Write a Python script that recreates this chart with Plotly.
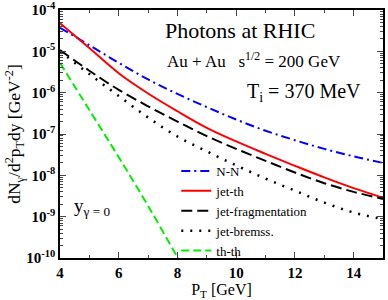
import plotly.graph_objects as go

pt = [4, 5, 6, 7, 8, 9, 10, 11, 12, 13, 14, 15]
nn = [3.72e-5, 1.41e-5, 5.25e-6, 2.09e-6, 9.33e-7, 4.47e-7, 2.24e-7, 1.20e-7, 7.08e-8, 4.37e-8, 2.88e-8, 2.00e-8]
jet_th = [4.79e-5, 1.20e-5, 2.95e-6, 9.55e-7, 3.55e-7, 1.41e-7, 6.61e-8, 3.31e-8, 1.70e-8, 8.91e-9, 4.90e-9, 2.88e-9]
jet_frag = [1.07e-5, 3.39e-6, 1.17e-6, 4.68e-7, 2.00e-7, 8.91e-8, 4.37e-8, 2.24e-8, 1.17e-8, 6.46e-9, 3.98e-9, 2.69e-9]
jet_brems = [1.00e-5, 2.82e-6, 8.32e-7, 2.51e-7, 8.71e-8, 3.80e-8, 1.74e-8, 8.32e-9, 4.27e-9, 2.19e-9, 1.26e-9, 8.71e-10]
pt_thth = [4, 5, 6, 7, 8, 8.5]
th_th = [5.25e-6, 3.80e-7, 2.75e-8, 1.82e-9, 1.05e-10, 2.5e-11]
y_ticks = [1e-10, 1e-9, 1e-8, 1e-7, 1e-6, 1e-5, 1e-4]
y_ticktext = ["10<sup>-10</sup>", "10<sup>-9</sup>", "10<sup>-8</sup>", "10<sup>-7</sup>",
              "10<sup>-6</sup>", "10<sup>-5</sup>", "10<sup>-4</sup>"]

FONT = "Liberation Serif"
L, R, T, B = 60, 5, 10, 42
W, H = 388, 300
PW, PH = W - L - R, H - T - B

fig = go.Figure()
fig.add_trace(go.Scatter(x=pt, y=nn, mode="lines", name="N-N", line_shape="spline",
                         line=dict(color="#0000ff", width=2, dash="9px,4px,2px,4px")))
fig.add_trace(go.Scatter(x=pt, y=jet_th, mode="lines", name="jet-th", line_shape="spline",
                         line=dict(color="#ff0000", width=2)))
fig.add_trace(go.Scatter(x=pt, y=jet_frag, mode="lines", name="jet-fragmentation", line_shape="spline",
                         line=dict(color="#000000", width=2, dash="11px,5px")))
fig.add_trace(go.Scatter(x=pt, y=jet_brems, mode="lines", name="jet-bremss.", line_shape="spline",
                         line=dict(color="#000000", width=2.5, dash="2px,7px")))
fig.add_trace(go.Scatter(x=pt_thth, y=th_th, mode="lines", name="th-th", line_shape="spline",
                         line=dict(color="#00ee00", width=2, dash="8px,4px")))

fig.update_layout(
    width=W, height=H,
    margin=dict(l=L, r=R, t=T, b=B, autoexpand=False),
    paper_bgcolor="white", plot_bgcolor="white",
    font=dict(family=FONT, color="black"),
    showlegend=True,
    legend=dict(x=0.36, y=(H - B - 156) / PH, xanchor="left", yanchor="top",
                bgcolor="rgba(0,0,0,0)", font=dict(size=13, family=FONT),
                itemwidth=30, tracegroupgap=0),
    xaxis=dict(range=[4, 15], tick0=4, dtick=2, ticks="inside", ticklen=6,
               showline=True, linecolor="black", linewidth=1.5, mirror="ticks",
               showgrid=False, zeroline=False, automargin=False,
               tickfont=dict(size=15, family=FONT, weight="bold"),
               minor=dict(dtick=1, tick0=4, ticks="inside", ticklen=3, showgrid=False),
               title=dict(text="P<sub>T</sub> [GeV]", font=dict(size=16, family=FONT), standoff=4)),
    yaxis=dict(type="log", range=[-10, -4], tickmode="array", tickvals=y_ticks, ticktext=y_ticktext,
               ticks="inside", ticklen=6, ticklabeloverflow="allow",
               showline=True, linecolor="black", linewidth=1.5, mirror="ticks",
               showgrid=False, zeroline=False, automargin=False,
               tickfont=dict(size=15, family=FONT, weight="bold"),
               minor=dict(ticks="inside", ticklen=3, showgrid=False, dtick="D1"),
               title=dict(text="dN<sub>γ</sub>/d<sup>2</sup>p<sub>T</sub>dy [GeV<sup>-2</sup>]",
                          font=dict(size=17.5, family=FONT), standoff=1)),
)

ann = [
    ("Photons at RHIC", 163, 30, 22),
    ("Au + Au&nbsp;&nbsp;&nbsp;s<sup>1/2</sup> = 200 GeV", 165, 60, 17),
    ("T<sub>i</sub> = 370 MeV", 245, 92, 20),
    ("y<sub>γ = 0</sub>", 72, 207, 19),
]
for text, px, py, fs in ann:
    fig.add_annotation(x=(px - L) / PW, y=(H - B - py) / PH, xref="paper", yref="paper",
                       text=text, showarrow=False, xanchor="left", yanchor="middle",
                       font=dict(size=fs, family=FONT))

fig.write_html("out.html", config={"displayModeBar": False})
with open("out.html", encoding="utf-8") as f:
    html = f.read()
html = html.replace("<head>", "<head><style>html,body{margin:0;padding:0;}</style>", 1)
with open("out.html", "w", encoding="utf-8") as f:
    f.write(html)
